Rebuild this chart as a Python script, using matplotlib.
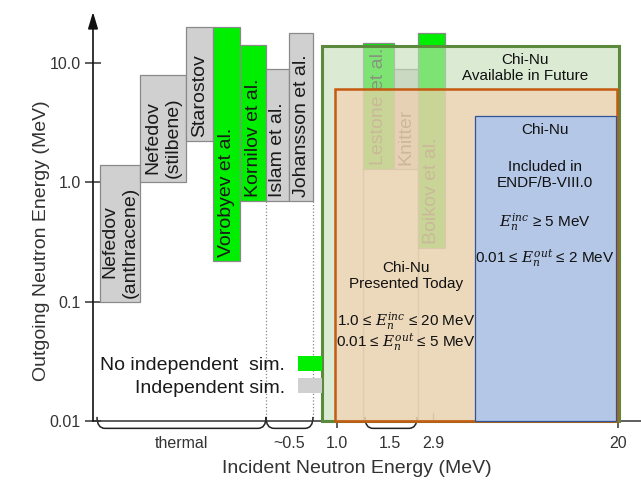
import numpy as np
import matplotlib
matplotlib.use('Agg')
import matplotlib.pyplot as plt
from matplotlib.patches import Patch, PathPatch
from matplotlib.path import Path

plt.rcParams['font.family'] = ['Liberation Sans', 'DejaVu Sans']
plt.rcParams['mathtext.fontset'] = 'dejavuserif'

# ---------------- data ----------------
# experiments (schematic incident-energy slots, outgoing-energy ranges in MeV)
exp_names = ["Nefedov\n(anthracene)", "Nefedov\n(stilbene)", "Starostov",
             "Vorobyev et al.", "Kornilov et al.", "Islam et al.",
             "Johansson et al.", "Lestone et al.", "Knitter", "Boikov et al."]
exp_x_left = [7, 47, 93, 120, 147, 173, 196, 270, 301, 325]
exp_x_right = [47, 93, 120, 147, 173, 196, 220, 301, 325, 352]
exp_eout_low = [0.1, 1.0, 2.2, 0.22, 0.70, 0.70, 0.70, 1.3, 1.3, 0.28]
exp_eout_high = [1.4, 7.9, 20.0, 20.0, 14.2, 8.9, 17.8, 14.7, 8.9, 17.8]
exp_indep_sim = [True, True, True, False, False, True, True, False, True, False]

# Chi-Nu regions
box_x_left = [229, 242, 382]
box_x_right = [526, 524, 523]
box_eout_low = [0.01, 0.01, 0.01]
box_eout_high = [13.9, 6.05, 3.6]

# incident energy axis labels
inc_major_pos = [244, 525]
inc_major_labels = ["1.0", "20"]
inc_minor_pos = [88, 196, 297, 340]
inc_minor_labels = ["thermal", "~0.5", "1.5", "2.9"]
brace_ranges = [(4, 173), (173, 220), (272, 324)]

y_ticks = [0.01, 0.1, 1.0, 10.0]
y_tick_labels = ["0.01", "0.1", "1.0", "10.0"]

legend_labels = ["No independent  sim.", "Independent sim."]

# ---------------- figure ----------------
W, H = 641, 482
fig = plt.figure(figsize=(W / 100, H / 100), dpi=100)
ax = fig.add_axes([93 / W, 61 / H, 548 / W, 409 / H])
ax.set_yscale('log')
ax.set_xlim(0, 548)
ax.set_ylim(0.01, 26.76)

GREEN = '#00ee00'
GRAY = '#d0d0d0'

# experiment bars
xl = np.array(exp_x_left, float)
xr = np.array(exp_x_right, float)
lo = np.array(exp_eout_low)
hi = np.array(exp_eout_high)
colors = [GRAY if s else GREEN for s in exp_indep_sim]
ax.bar(xl, hi - lo, bottom=lo, width=xr - xl, align='edge', color=colors,
       edgecolor='#8a8a8a', linewidth=0.9, zorder=2)
for name, a, b, y0 in zip(exp_names, xl, xr, lo):
    ax.text((a + b) / 2, y0 * 1.08, name, rotation=90, ha='center', va='bottom',
            fontsize=14, color='#1a1a1a', linespacing=1.25, zorder=2.2,
            multialignment='center')

# guide lines under bars
for i in (5, 6):
    x = exp_x_left[i] if i == 5 else exp_x_right[i]
    ax.plot([x, x], [0.01, exp_eout_low[i]], ls=':', color='#888888', lw=0.9, zorder=1.5)
for i in (7, 9):
    ax.plot([exp_x_left[i]] * 2, [0.01, exp_eout_low[7]], color='#a8a8a8', lw=1.0, zorder=1.5)
ax.axvline(inc_minor_pos[3], 0, 0.02, color='#777777', lw=1.0, zorder=1.5)

# Chi-Nu boxes
box_face = [(199 / 255, 223 / 255, 185 / 255, 0.63),
            (248 / 255, 205 / 255, 172 / 255, 0.61),
            (180 / 255, 199 / 255, 231 / 255, 1.0)]
box_edge = ['#5b8a3c', '#c55a11', '#2f5597']
box_lw = [2.2, 1.8, 0.9]
for k in range(3):
    bars = ax.bar(box_x_left[k], box_eout_high[k] - box_eout_low[k],
                  bottom=box_eout_low[k], width=box_x_right[k] - box_x_left[k],
                  align='edge', facecolor=box_face[k], edgecolor=box_edge[k],
                  linewidth=box_lw[k], zorder=3 + k)
    for p in bars:
        p.set_clip_on(False)

# box texts
tk = dict(ha='center', va='center', fontsize=11, color='#111111', zorder=7)
ax.text(432, 9.08, "Chi-Nu\nAvailable in Future", **tk)
ax.text(452, 2.745, "Chi-Nu", **tk)
ax.text(452, 1.15, "Included in\nENDF/B-VIII.0", **tk)
ax.text(452, 0.465, r"$E_n^{inc}$ ≥ 5 MeV", **tk)
ax.text(452, 0.232, r"0.01 ≤ $E_n^{out}$ ≤ 2 MeV", **tk)
ax.text(313, 0.164, "Chi-Nu\nPresented Today", **tk)
ax.text(313, 0.0692, r"1.0 ≤ $E_n^{inc}$ ≤ 20 MeV", **tk)
ax.text(313, 0.0457, r"0.01 ≤ $E_n^{out}$ ≤ 5 MeV", **tk)

# braces under the incident-energy axis
tr = ax.get_xaxis_transform()
for x0, x1 in brace_ranges:
    r = 8
    top, bot = 0.01, -0.018
    verts = [(x0, top), (x0, bot), (x0 + r, bot), (x1 - r, bot), (x1, bot), (x1, top)]
    codes = [Path.MOVETO, Path.CURVE3, Path.CURVE3, Path.LINETO, Path.CURVE3, Path.CURVE3]
    ax.add_patch(PathPatch(Path(verts, codes), transform=tr, fill=False,
                           lw=1.1, ec='#222222', clip_on=False, zorder=2))

# legend
handles = [Patch(facecolor=GREEN, edgecolor='none'), Patch(facecolor=GRAY, edgecolor='none')]
leg = ax.legend(handles, legend_labels, loc='center right', bbox_to_anchor=(229, 0.0238),
                bbox_transform=ax.transData, frameon=False, markerfirst=False,
                fontsize=14, handlelength=1.23, handleheight=0.82, handletextpad=0.67,
                labelspacing=0.22, borderpad=0, borderaxespad=0)
for t in leg.get_texts():
    t.set_color('#1a1a1a')

# axes styling
for s in ('top', 'right', 'left'):
    ax.spines[s].set_visible(False)
ax.spines['bottom'].set_linewidth(1.1)
ax.spines['bottom'].set_color('#333333')
ax.annotate('', xy=(0, 1), xytext=(0, 0), xycoords='axes fraction', textcoords='axes fraction',
            arrowprops=dict(arrowstyle='-|>,head_length=1.0,head_width=0.3', color='#111111',
                            lw=1.2, shrinkA=0, shrinkB=0, mutation_scale=10),
            annotation_clip=False)

ax.set_yticks(y_ticks)
ax.set_yticklabels(y_tick_labels)
ax.yaxis.set_minor_locator(matplotlib.ticker.NullLocator())
ax.tick_params(axis='y', which='major', direction='inout', length=12, width=1.1,
               pad=3, labelsize=11.5, labelcolor='#333333', color='#333333')

ax.set_xticks(inc_major_pos)
ax.set_xticklabels(inc_major_labels)
ax.set_xticks(inc_minor_pos, minor=True)
ax.set_xticklabels(inc_minor_labels, minor=True)
ax.tick_params(axis='x', which='major', direction='out', length=5, width=1.1, pad=6,
               labelsize=11.5, labelcolor='#333333', color='#333333')
ax.tick_params(axis='x', which='minor', length=0, pad=11, labelsize=11.5,
               labelcolor='#333333')

ax.set_ylabel("Outgoing Neutron Energy (MeV)", fontsize=14, color='#333333')
ax.yaxis.set_label_coords(-0.078, 0.44)
ax.set_xlabel("Incident Neutron Energy (MeV)", fontsize=14, color='#333333')
ax.xaxis.set_label_coords(0.482, -0.095)

fig.savefig('out.png', dpi=100)
